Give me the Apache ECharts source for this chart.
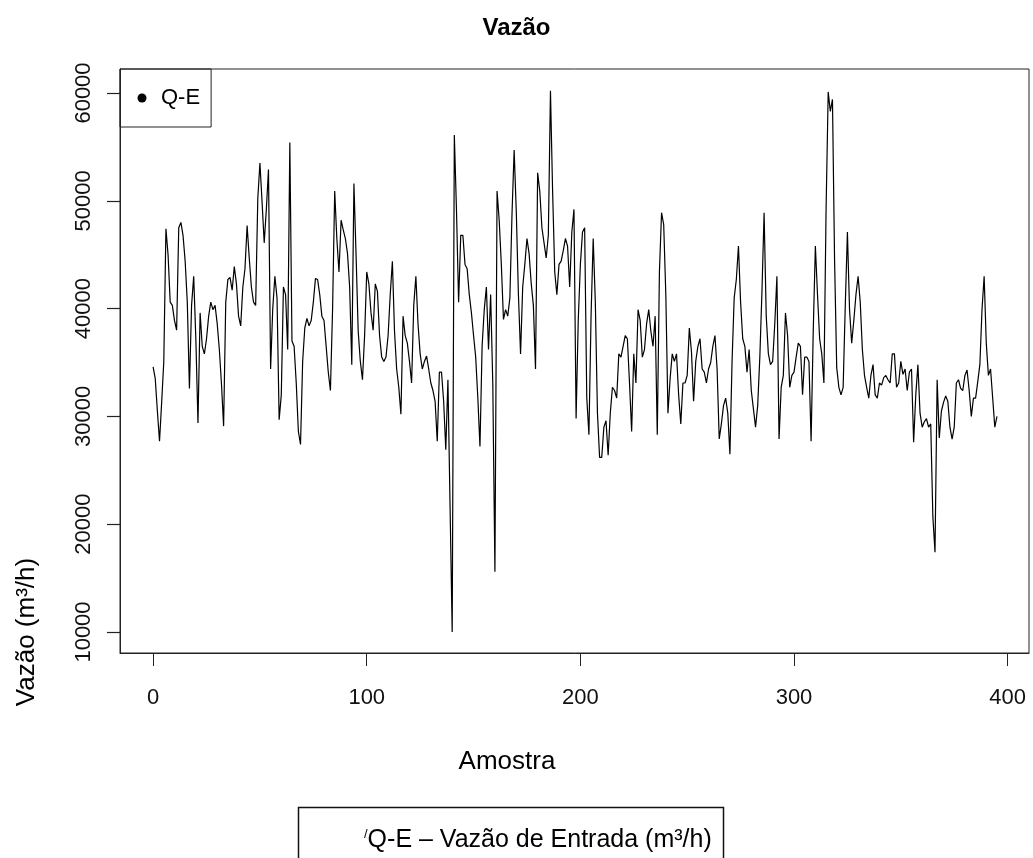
<!DOCTYPE html>
<html>
<head>
<meta charset="utf-8">
<script src="https://cdn.jsdelivr.net/npm/echarts@6/dist/echarts.min.js"></script>
<style>
html,body{margin:0;padding:0;background:#fff;}
#chart{width:1033px;height:858px;}
</style>
</head>
<body>
<div id="chart"></div>
<script>
// Vazão de entrada (m3/h), amostras 0..395
const vazao000 = [34600,33500,30500,27700,31300,35100,47400,45000,40600,40300,
  38900,38000,47500,48000,46800,44400,40600,32600,40300,43000,
  37200,29400,39600,36500,35800,37200,39300,40600,39900,40300,
  38600,36200,33000,29100,40600,42700,42900,41700,43900,42300,
  39300,38400,42000,43700,47700,44700,42000,40600,40300,50200];
const vazao050 = [53500,49900,46100,49200,52900,34400,40000,43000,41000,29700,
  32000,42000,41300,36200,55400,37000,36500,33100,28600,27400,
  35100,38200,39100,38400,38900,40600,42800,42700,41300,39300,
  38900,36500,34100,32400,39900,50900,46500,43400,48200,47300,
  46500,45100,42000,34800,51600,45000,37900,35100,33400,37500];
const vazao100 = [43400,42300,39600,38000,42300,41600,37500,35500,35100,35500,
  37500,41300,44400,37900,34400,32700,30200,39300,37500,36800,
  35100,33100,40300,43000,38600,35800,34400,35100,35600,34400,
  33100,32400,31400,27700,34100,34100,31400,26900,33400,21700,
  10000,56100,49200,40600,46800,46800,44100,43700,41300,39600];
const vazao150 = [37500,35500,31700,27200,36500,39900,42000,36200,41300,33100,
  15600,50900,48200,44100,39000,39900,39300,41000,48800,54700,
  49000,41300,35800,42000,44100,46500,45100,42300,40300,34400,
  52600,50900,47500,46100,44700,46800,60200,50900,43400,41300,
  44100,44400,45400,46500,45800,42000,47100,49200,29800,38900];
const vazao200 = [44100,47100,47500,31700,28300,39300,46500,40600,30300,26200,
  26200,29000,29600,26400,30300,32700,32400,31700,35800,35500,
  36500,37500,37200,33100,28600,35800,33100,39900,38900,35500,
  36200,38600,39900,37900,36500,39300,28300,43400,48900,47800,
  41300,30300,33500,35800,35100,35800,32000,29300,33100,33100];
const vazao250 = [33800,38200,36000,31400,35100,36500,37200,34400,34100,33100,
  34400,35000,36500,37500,34400,27900,29300,31000,31700,30300,
  26500,35100,41000,42700,45800,40600,37200,36500,34100,36200,
  32400,30700,29000,31000,35500,41600,48900,39300,35800,34800,
  35100,38600,43000,27900,32700,33800,39600,37500,32700,33800];
const vazao300 = [34100,35500,36800,36500,32000,35500,35500,35100,27700,37900,
  45800,41300,37200,35800,33100,49000,60100,58300,59400,44400,
  34500,32700,32000,32700,40300,47100,39900,36800,38900,41300,
  43000,40600,36200,33800,32700,31700,33800,34800,32000,31700,
  33100,32900,33600,33800,33400,33100,35800,35800,32700,33100];
const vazao350 = [35100,33900,34400,32400,34100,34400,27600,32000,34800,30300,
  29000,29500,29800,29000,29300,20700,17400,33400,28000,30500,
  31300,31900,31400,29000,27900,29000,33100,33400,32600,32400,
  33800,34300,32400,30000,31700,31700,33200,34800,39900,43000,
  36800,33800,34400,31700,29000,30000];

const xTicks = [0, 100, 200, 300, 400];
const yTicks = [10000, 20000, 30000, 40000, 50000, 60000];

const vazao = [].concat(vazao000, vazao050, vazao100, vazao150,
                        vazao200, vazao250, vazao300, vazao350);
const serieQE = vazao.map((v, i) => [i, v]);

const FONT = "'Liberation Sans', Arial, Helvetica, sans-serif";
const chart = echarts.init(document.getElementById('chart'), null, {renderer: 'canvas'});

chart.setOption({
  animation: false,
  backgroundColor: '#ffffff',
  textStyle: {fontFamily: FONT},
  title: {
    text: 'Vazão',
    left: 'center',
    top: 11,
    textStyle: {fontFamily: FONT, fontSize: 24, fontWeight: 'bold', color: '#000'}
  },
  legend: {
    data: [{name: 'Q-E', icon: 'circle'}],
    left: 120,
    top: 69,
    orient: 'vertical',
    itemWidth: 9,
    itemHeight: 9,
    padding: [18, 11, 18, 17.5],
    borderColor: '#222',
    borderWidth: 1,
    borderRadius: 0,
    selectedMode: false,
    lineStyle: {width: 0, opacity: 0},
    itemStyle: {color: '#000', borderWidth: 0},
    textStyle: {fontFamily: FONT, fontSize: 22, color: '#000', padding: [0, 0, 0, 9.5]}
  },
  grid: {
    left: 120, top: 69, width: 909, height: 584,
    show: true, borderColor: '#222', borderWidth: 1,
    backgroundColor: 'transparent',
    containLabel: false, outerBoundsMode: 'none'
  },
  xAxis: {
    type: 'value',
    position: 'bottom',
    min: -15.5, max: 410,
    splitLine: {show: false},
    axisLine: {show: true, onZero: false, lineStyle: {color: '#222', width: 1}},
    axisTick: {show: true, inside: false, length: 13, lineStyle: {color: '#222', width: 1}, customValues: xTicks},
    axisLabel: {show: true, customValues: xTicks, margin: 34, fontSize: 22, color: '#111',
                fontFamily: FONT, formatter: v => String(v)}
  },
  yAxis: {
    type: 'value',
    position: 'left',
    min: 8052, max: 62226,
    splitLine: {show: false},
    axisLine: {show: true, onZero: false, lineStyle: {color: '#222', width: 1}},
    axisTick: {show: true, inside: false, length: 13, lineStyle: {color: '#222', width: 1.2}, customValues: yTicks},
    axisLabel: {show: true, customValues: yTicks, rotate: 90, margin: 25, fontSize: 22, color: '#111',
                fontFamily: FONT, formatter: v => String(v)}
  },
  series: [{
    name: 'Q-E',
    type: 'line',
    data: serieQE,
    showSymbol: false,
    symbol: 'none',
    sampling: null,
    lineStyle: {color: '#000', width: 1.2},
    itemStyle: {color: '#000'},
    z: 3
  }],
  graphic: [
    {
      type: 'text', x: 27, y: 632, rotation: Math.PI / 2,
      style: {text: 'Vazão (m³/h)', fontFamily: FONT, fontSize: 26, fill: '#000',
              align: 'center', verticalAlign: 'middle'}
    },
    {
      type: 'text', x: 507, y: 762,
      style: {text: 'Amostra', fontFamily: FONT, fontSize: 26, fill: '#000',
              align: 'center', verticalAlign: 'middle'}
    },
    {
      type: 'rect', shape: {x: 298.5, y: 807.5, width: 425, height: 80},
      style: {fill: 'none', stroke: '#111', lineWidth: 1.5}
    },
    {
      type: 'text', x: 364, y: 840,
      style: {
        text: '{s|/}Q-E – Vazão de Entrada (m³/h)',
        fontFamily: FONT, fontSize: 25, fill: '#000',
        align: 'left', verticalAlign: 'middle',
        rich: {s: {fontSize: 13, verticalAlign: 'top', fontFamily: FONT, fill: '#000'}}
      }
    }
  ]
});
</script>
</body>
</html>
